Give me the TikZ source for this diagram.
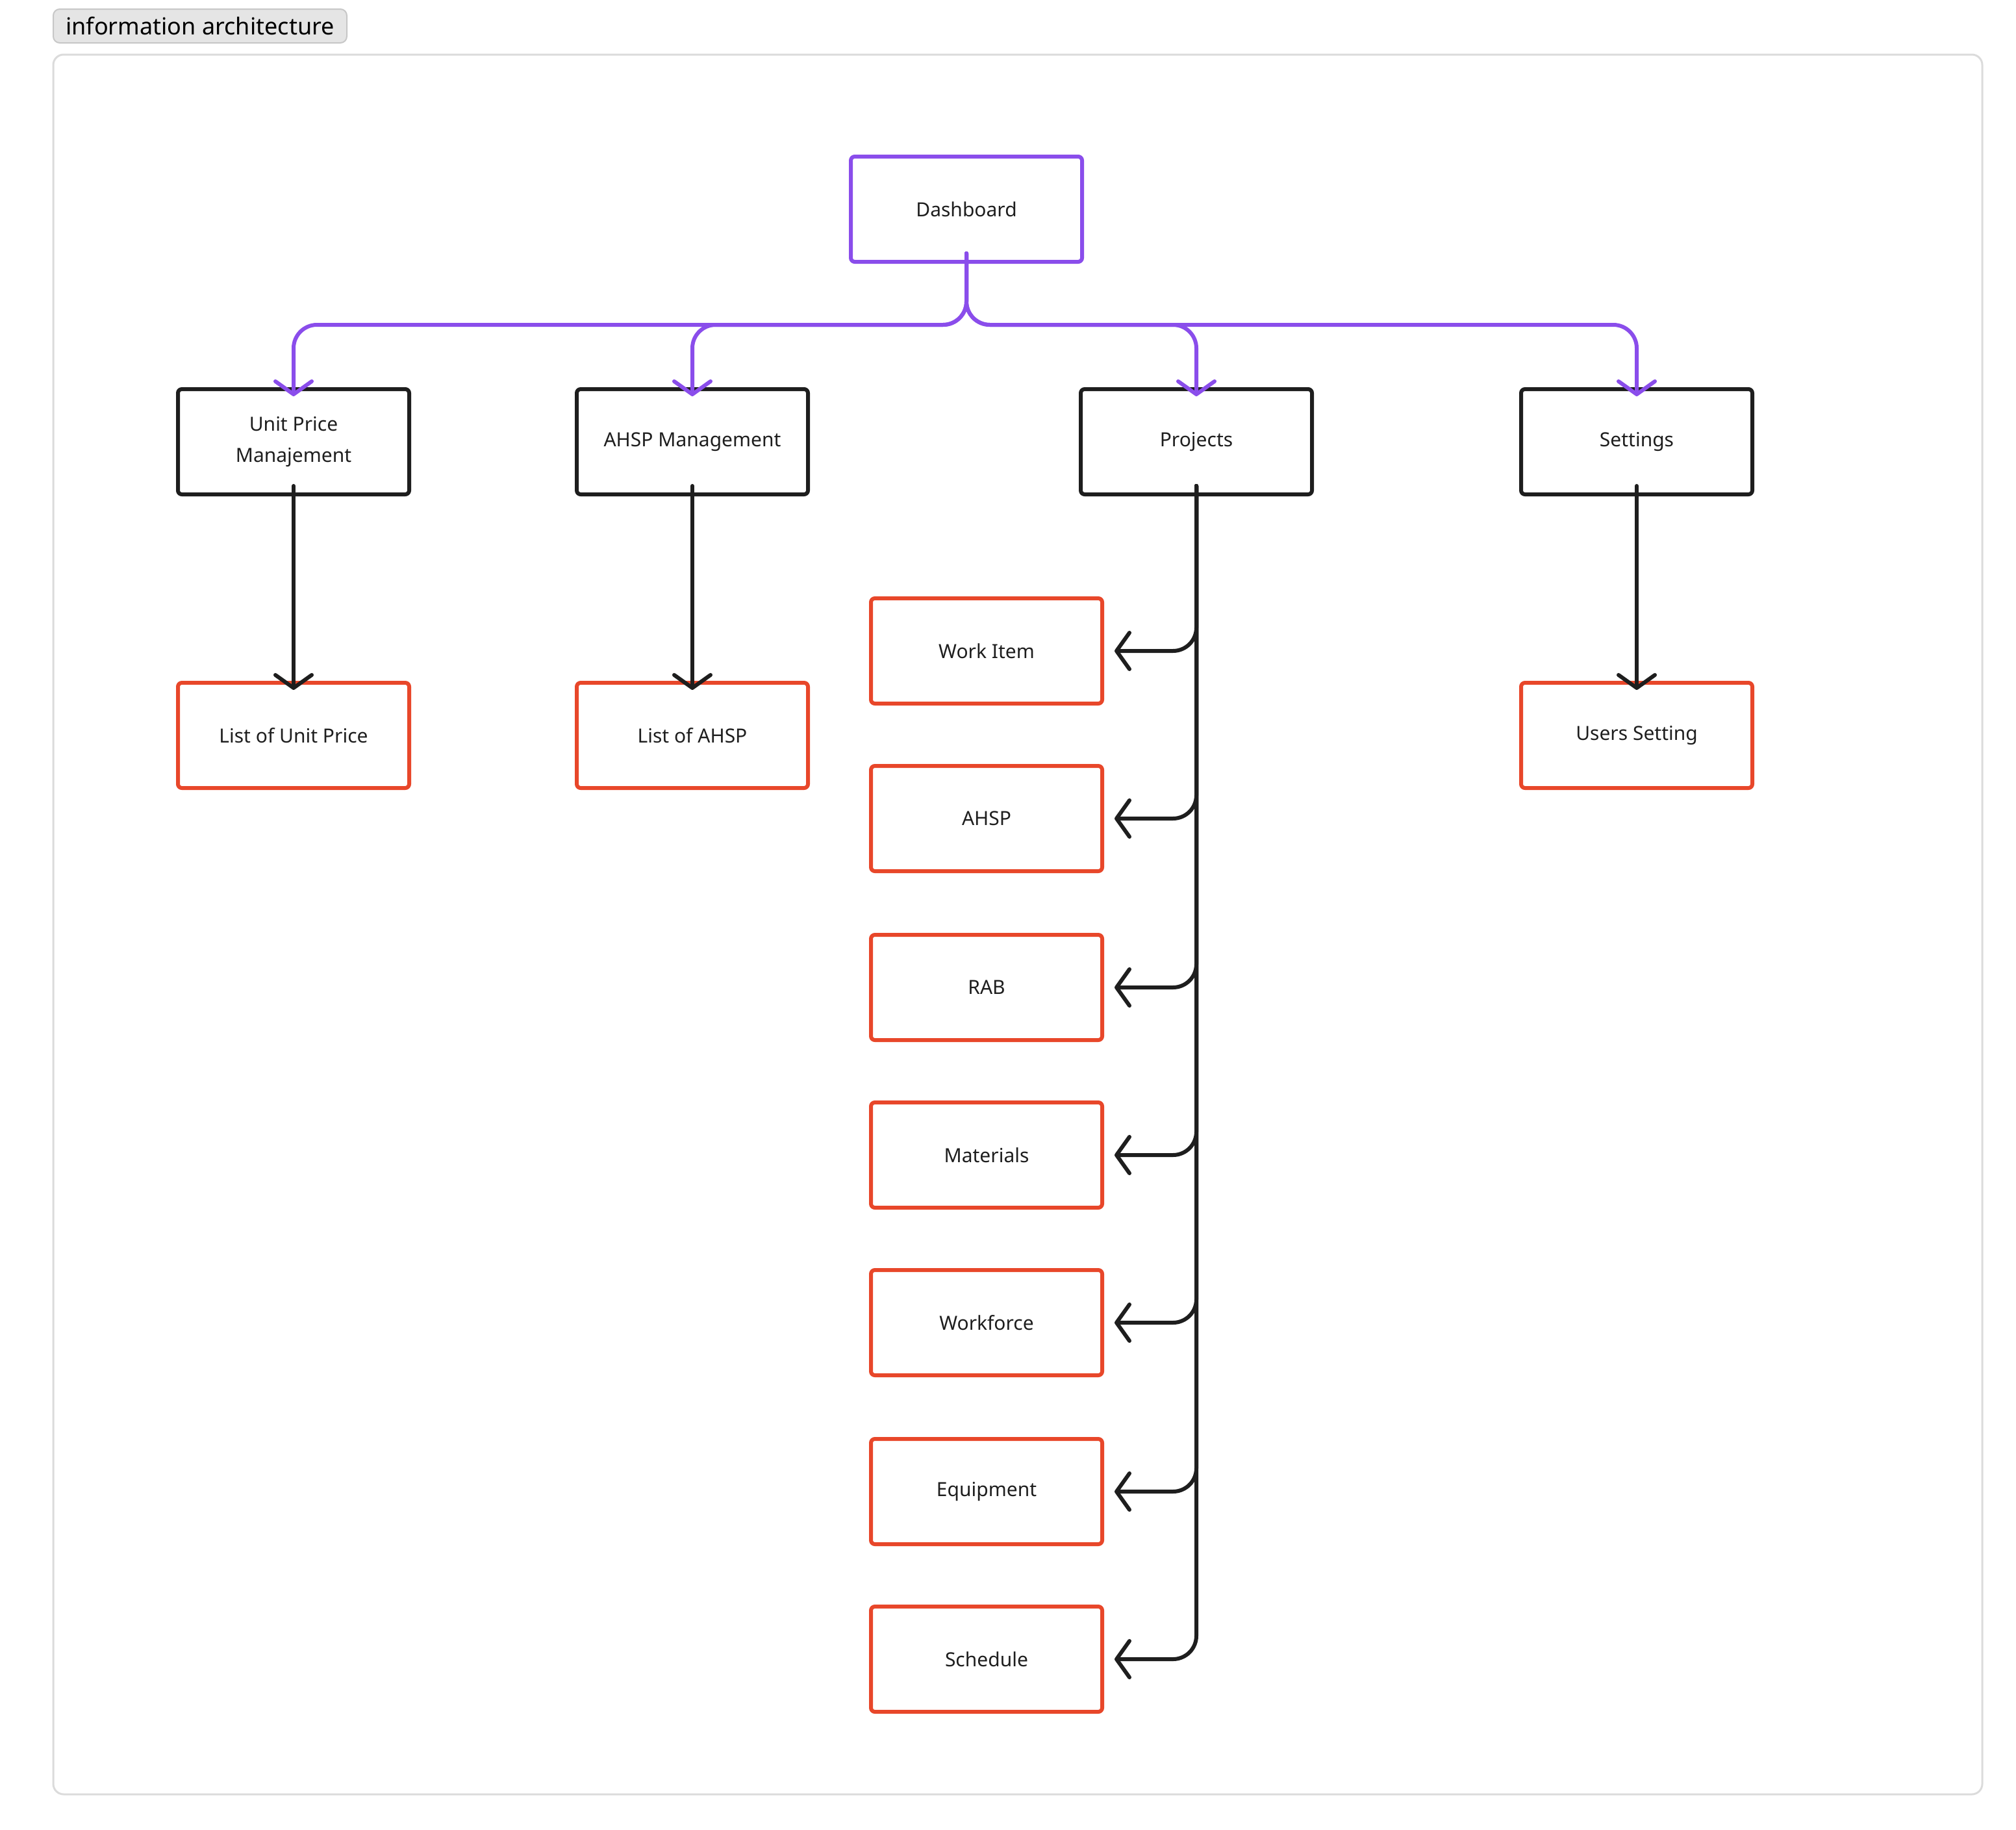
\documentclass[tikz,border=0pt]{standalone}
\usepackage{fontspec}
\setmainfont{Noto Sans}
\usetikzlibrary{arrows.meta}
\definecolor{purp}{HTML}{8A4DEB}
\definecolor{redo}{HTML}{E8472A}
\definecolor{ink}{HTML}{1E1E1E}
\tikzset{
	box/.style={draw,line width=3pt,rounded corners=3pt,minimum width=178pt,minimum height=81pt,align=center,font=\fontsize{15}{24}\selectfont,text=ink},
	top/.style={box,draw=purp},
	mid/.style={box,draw=ink},
	leaf/.style={box,draw=redo},
	tip/.style={-{Straight Barb[length=10pt,width=28pt,round]}},
	pline/.style={tip,draw=purp,line width=3pt,rounded corners=18pt},
	bline/.style={tip,draw=ink,line width=3pt,rounded corners=18pt}
}
\begin{document}
\begin{tikzpicture}[x=1pt,y=-1pt,line cap=round,line join=round]
	\useasboundingbox (0,0) rectangle (1552,1408);
	\draw[line width=1.5pt,draw=black!14,rounded corners=8pt] (41,42) rectangle (1526,1381);
	\node[draw=black!22,fill=black!10,line width=1pt,rounded corners=5pt,minimum width=226pt,minimum height=26pt,inner sep=0pt,font=\fontsize{18}{20}\selectfont] (tag) at (154,20) {information architecture};
	% top level
	\node[top] (dash) at (744,161) {Dashboard};
	\node[mid] (unit) at (226,340) {Unit Price\\Manajement};
	\node[mid] (ahspm) at (533,340) {AHSP Management};
	\node[mid] (proj) at (921,340) {Projects};
	\node[mid] (set) at (1260,340) {Settings};
	% leaves
	\node[leaf] (lunit) at (226,566) {List of Unit Price};
	\node[leaf] (lahsp) at (533,566) {List of AHSP};
	\node[leaf] (users) at (1260,566) {Users Setting};
	\node[leaf] (work) at (759.5,501) {Work Item};
	\node[leaf] (ahsp) at (759.5,630) {AHSP};
	\node[leaf] (rab) at (759.5,760) {RAB};
	\node[leaf] (mat) at (759.5,889) {Materials};
	\node[leaf] (force) at (759.5,1018) {Workforce};
	\node[leaf] (equip) at (759.5,1148) {Equipment};
	\node[leaf] (sched) at (759.5,1277) {Schedule};
	% connectors
	\coordinate (bus) at (744,250);
	\foreach \c in {unit,ahspm,proj,set}
		\draw[pline] ([yshift=8]dash.south) -- (bus) -| ([yshift=-7]\c.north);
	\foreach \a/\b in {unit/lunit,ahspm/lahsp,set/users}
		\draw[bline] ([yshift=8]\a.south) -- ([yshift=-7]\b.north);
	\foreach \c in {work,ahsp,rab,mat,force,equip,sched}
		\draw[bline] ([yshift=8]proj.south) |- ([xshift=8]\c.east);
\end{tikzpicture}
\end{document}
